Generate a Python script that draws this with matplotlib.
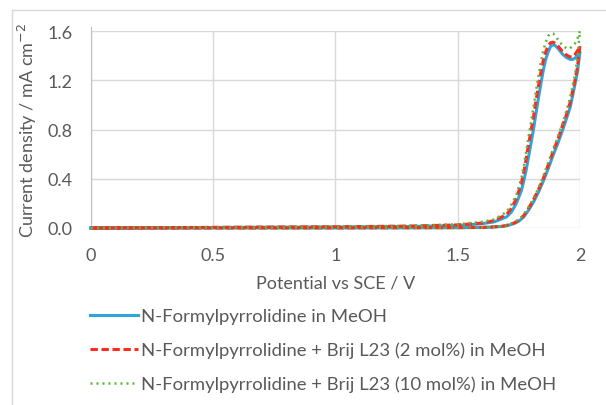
import matplotlib
matplotlib.use("Agg")
import matplotlib.pyplot as plt
from matplotlib.lines import Line2D

plt.rcParams["font.family"] = ["Lato", "DejaVu Sans"]

# Forward scan potentials shared by all three series (V vs SCE)
V_FWD = [0.0, 0.5, 1.0, 1.3, 1.5, 1.6, 1.65, 1.7, 1.72, 1.74, 1.76, 1.77, 1.78, 1.79,
         1.80, 1.81, 1.82, 1.83, 1.84, 1.85, 1.86, 1.87, 1.88, 1.89, 1.90, 1.91,
         1.92, 1.93, 1.945, 1.96, 1.97, 1.98, 1.99, 2.0]
# Reverse scan potentials
V_REV = [2.0, 1.99, 1.98, 1.96, 1.94, 1.93, 1.91, 1.89, 1.87, 1.85, 1.83, 1.81,
         1.79, 1.77, 1.75, 1.73, 1.70, 1.68, 1.64, 1.6, 1.5, 1.0, 0.5, 0.0]

# Current density / mA cm-2
J_BLUE_FWD = [0.0, 0.004, 0.008, 0.012, 0.02, 0.035, 0.05, 0.09, 0.13, 0.2, 0.3, 0.38, 0.47,
              0.58, 0.69, 0.8, 0.93, 1.05, 1.17, 1.28, 1.37, 1.43, 1.475, 1.49, 1.48, 1.46,
              1.435, 1.41, 1.385, 1.37, 1.37, 1.38, 1.40, 1.43]
J_BLUE_REV = [1.43, 1.27, 1.17, 0.98, 0.86, 0.80, 0.69, 0.59, 0.48, 0.38, 0.29, 0.21,
              0.145, 0.09, 0.055, 0.035, 0.018, 0.012, 0.007, 0.004, 0.002, 0.0, 0.0, 0.0]

J_RED_FWD = [0.0, 0.005, 0.01, 0.015, 0.025, 0.04, 0.06, 0.11, 0.16, 0.24, 0.36, 0.45, 0.56,
             0.68, 0.79, 0.9, 1.03, 1.15, 1.26, 1.36, 1.43, 1.48, 1.505, 1.51, 1.50, 1.48,
             1.455, 1.43, 1.405, 1.39, 1.39, 1.41, 1.44, 1.48]
J_RED_REV = [1.48, 1.31, 1.20, 1.02, 0.89, 0.84, 0.72, 0.62, 0.51, 0.40, 0.31, 0.23,
             0.16, 0.10, 0.062, 0.04, 0.021, 0.014, 0.008, 0.005, 0.003, 0.001, 0.0, 0.0]

J_GREEN_FWD = [0.0, 0.006, 0.012, 0.018, 0.03, 0.05, 0.07, 0.13, 0.19, 0.27, 0.4, 0.5, 0.62,
               0.74, 0.86, 0.98, 1.11, 1.23, 1.34, 1.44, 1.51, 1.56, 1.58, 1.58, 1.56, 1.53,
               1.505, 1.48, 1.46, 1.46, 1.48, 1.50, 1.54, 1.60]
J_GREEN_REV = [1.60, 1.38, 1.25, 1.06, 0.92, 0.86, 0.74, 0.64, 0.53, 0.42, 0.32, 0.24,
               0.17, 0.11, 0.068, 0.045, 0.024, 0.016, 0.009, 0.006, 0.003, 0.001, 0.0, 0.0]

LABELS = ["N-Formylpyrrolidine in MeOH",
          "N-Formylpyrrolidine + Brij L23 (2 mol%) in MeOH",
          "N-Formylpyrrolidine + Brij L23 (10 mol%) in MeOH"]
X_TICKS = [0, 0.5, 1, 1.5, 2]
Y_TICKS = [0.0, 0.4, 0.8, 1.2, 1.6]

BLUE = "#2EA6DC"
RED = "#FF2A1F"
GREEN = "#5BB43C"
TXT = "#595959"

fig = plt.figure(figsize=(6.06, 4.06), dpi=100)
ax = fig.add_axes([0.150, 0.436, 0.807, 0.485])

styles = [
    dict(color=BLUE, lw=2.2, ls="-"),
    dict(color=RED, lw=2.2, ls=(0, (2.4, 1.2))),
    dict(color=GREEN, lw=1.8, ls=(0, (0.8, 1.6))),
]
series = [(J_BLUE_FWD, J_BLUE_REV), (J_RED_FWD, J_RED_REV), (J_GREEN_FWD, J_GREEN_REV)]
for (jf, jr), st in zip(series, styles):
    ax.plot(V_FWD + V_REV, jf + jr, clip_on=False, zorder=3, **st)

ax.set_xlim(0, 2)
ax.set_ylim(0, 1.6)
ax.set_xticks(X_TICKS, ["0", "0.5", "1", "1.5", "2"])
ax.set_yticks(Y_TICKS, [f"{v:.1f}" for v in Y_TICKS])
ax.grid(True, color="#D9D9D9", lw=1.0)
ax.set_axisbelow(True)
for s in ["top", "right", "bottom"]:
    ax.spines[s].set_visible(False)
ax.spines["left"].set_color("#BFBFBF")
ax.spines["left"].set_bounds(0, 1.63)
ax.tick_params(length=0, labelsize=13, labelcolor=TXT)
ax.tick_params(axis="y", pad=13)
ax.tick_params(axis="x", pad=14)
ax.set_xlabel("Potential vs SCE / V", fontsize=13, color=TXT, labelpad=8)
ax.set_ylabel("Current density / mA cm$^{-2}$", fontsize=13, color=TXT, labelpad=6)

handles = [Line2D([], [], **st) for st in styles]
fig.legend(handles, LABELS, loc="upper left", bbox_to_anchor=(0.137, 0.257),
           frameon=False, fontsize=13.3, labelcolor=TXT, handlelength=2.55,
           handletextpad=0.2, labelspacing=0.95, borderaxespad=0)

# chart-area border (Excel style)
fig.add_artist(Line2D([0.02, 0.02], [0.0, 0.973], color="#D9D9D9", lw=1.0))
fig.add_artist(Line2D([0.02, 1.0], [0.973, 0.973], color="#D9D9D9", lw=1.0))

fig.savefig("out.png", dpi=100, facecolor="white")
